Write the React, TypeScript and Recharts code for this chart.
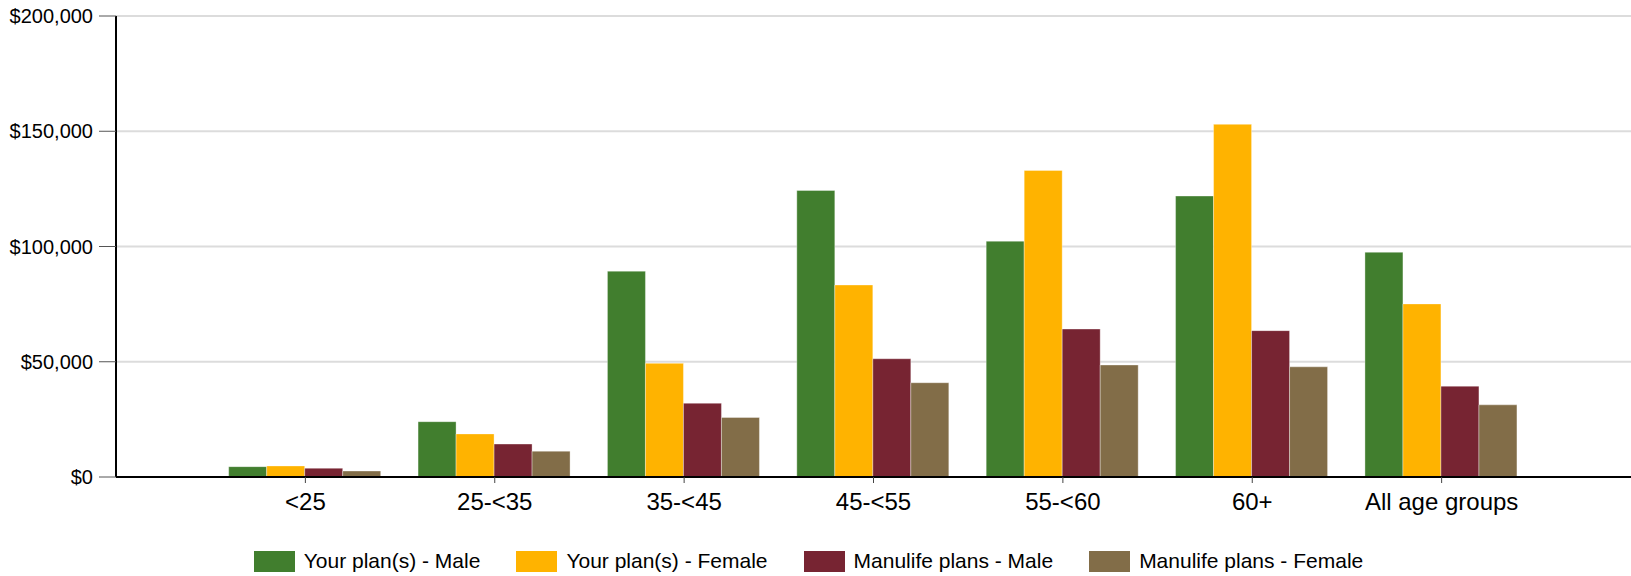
import React from 'react'
import {
  BarChart, Bar, XAxis, YAxis, CartesianGrid, Legend,
} from 'recharts'

const ageGroups = ['<25', '25-<35', '35-<45', '45-<55', '55-<60', '60+', 'All age groups']
const yourPlanMale = [4500, 24000, 89300, 124300, 102300, 121900, 97500]
const yourPlanFemale = [4800, 18700, 49300, 83300, 133000, 153000, 75100]
const manulifeMale = [3800, 14300, 32000, 51300, 64200, 63500, 39400]
const manulifeFemale = [2600, 11200, 25800, 40900, 48600, 47800, 31300]
const yTicks = [0, 50000, 100000, 150000, 200000]

const series = [
  { key: 'ypMale', name: 'Your plan(s) - Male', color: '#417e2e' },
  { key: 'ypFemale', name: 'Your plan(s) - Female', color: '#ffb300' },
  { key: 'mlMale', name: 'Manulife plans - Male', color: '#772432' },
  { key: 'mlFemale', name: 'Manulife plans - Female', color: '#826d48' },
]

const data = ageGroups.map((g, i) => ({
  group: g,
  ypMale: yourPlanMale[i],
  ypFemale: yourPlanFemale[i],
  mlMale: manulifeMale[i],
  mlFemale: manulifeFemale[i],
}))

const font = '"Liberation Sans", Arial, sans-serif'
const W = 1631
const H = 576
const step = (W - 116) / 8

function money(v: number) {
  return '$' + v.toLocaleString('en-US')
}

function LegendRow() {
  return (
    <div style={{ display: 'flex', justifyContent: 'center', alignItems: 'center', fontFamily: font, fontSize: 21, color: '#000', paddingTop: 22, paddingRight: 14 }}>
      {series.map((s, i) => (
        <div key={s.key} style={{ display: 'flex', alignItems: 'center', marginLeft: i === 0 ? 0 : 36 }}>
          <span style={{ display: 'inline-block', width: 41, height: 21, background: s.color, marginRight: 9 }} />
          <span>{s.name}</span>
        </div>
      ))}
    </div>
  )
}

export default function App() {
  return (
    <div style={{ position: 'absolute', left: 0, top: 0, background: '#fff' }}>
      <BarChart
        width={W}
        height={H}
        data={data}
        margin={{ top: 16, right: 0, left: 0, bottom: 0 }}
        barGap={0}
        barCategoryGap={18}
      >
        <CartesianGrid vertical={false} stroke="#dcdcdc" strokeWidth={2} />
        <XAxis
          dataKey="group"
          height={50}
          padding={{ left: step / 2, right: step / 2 }}
          axisLine={{ stroke: '#000', strokeWidth: 2 }}
          tickLine={{ stroke: '#444' }}
          tickSize={6}
          tickMargin={10}
          interval={0}
          tick={{ fontSize: 24, fill: '#000', fontFamily: font }}
        />
        <YAxis
          width={116}
          domain={[0, 200000]}
          ticks={yTicks}
          tickFormatter={money}
          axisLine={{ stroke: '#000', strokeWidth: 2 }}
          tickLine={{ stroke: '#555' }}
          tickSize={17}
          tickMargin={6}
          tick={{ fontSize: 20, fill: '#000', fontFamily: font }}
        />
        <Legend verticalAlign="bottom" height={49} content={() => <LegendRow />} />
        {series.map(s => (
          <Bar
            key={s.key}
            dataKey={s.key}
            name={s.name}
            fill={s.color}
            stroke="rgba(255,255,255,0.35)"
            strokeWidth={1}
            isAnimationActive={false}
          />
        ))}
      </BarChart>
    </div>
  )
}
